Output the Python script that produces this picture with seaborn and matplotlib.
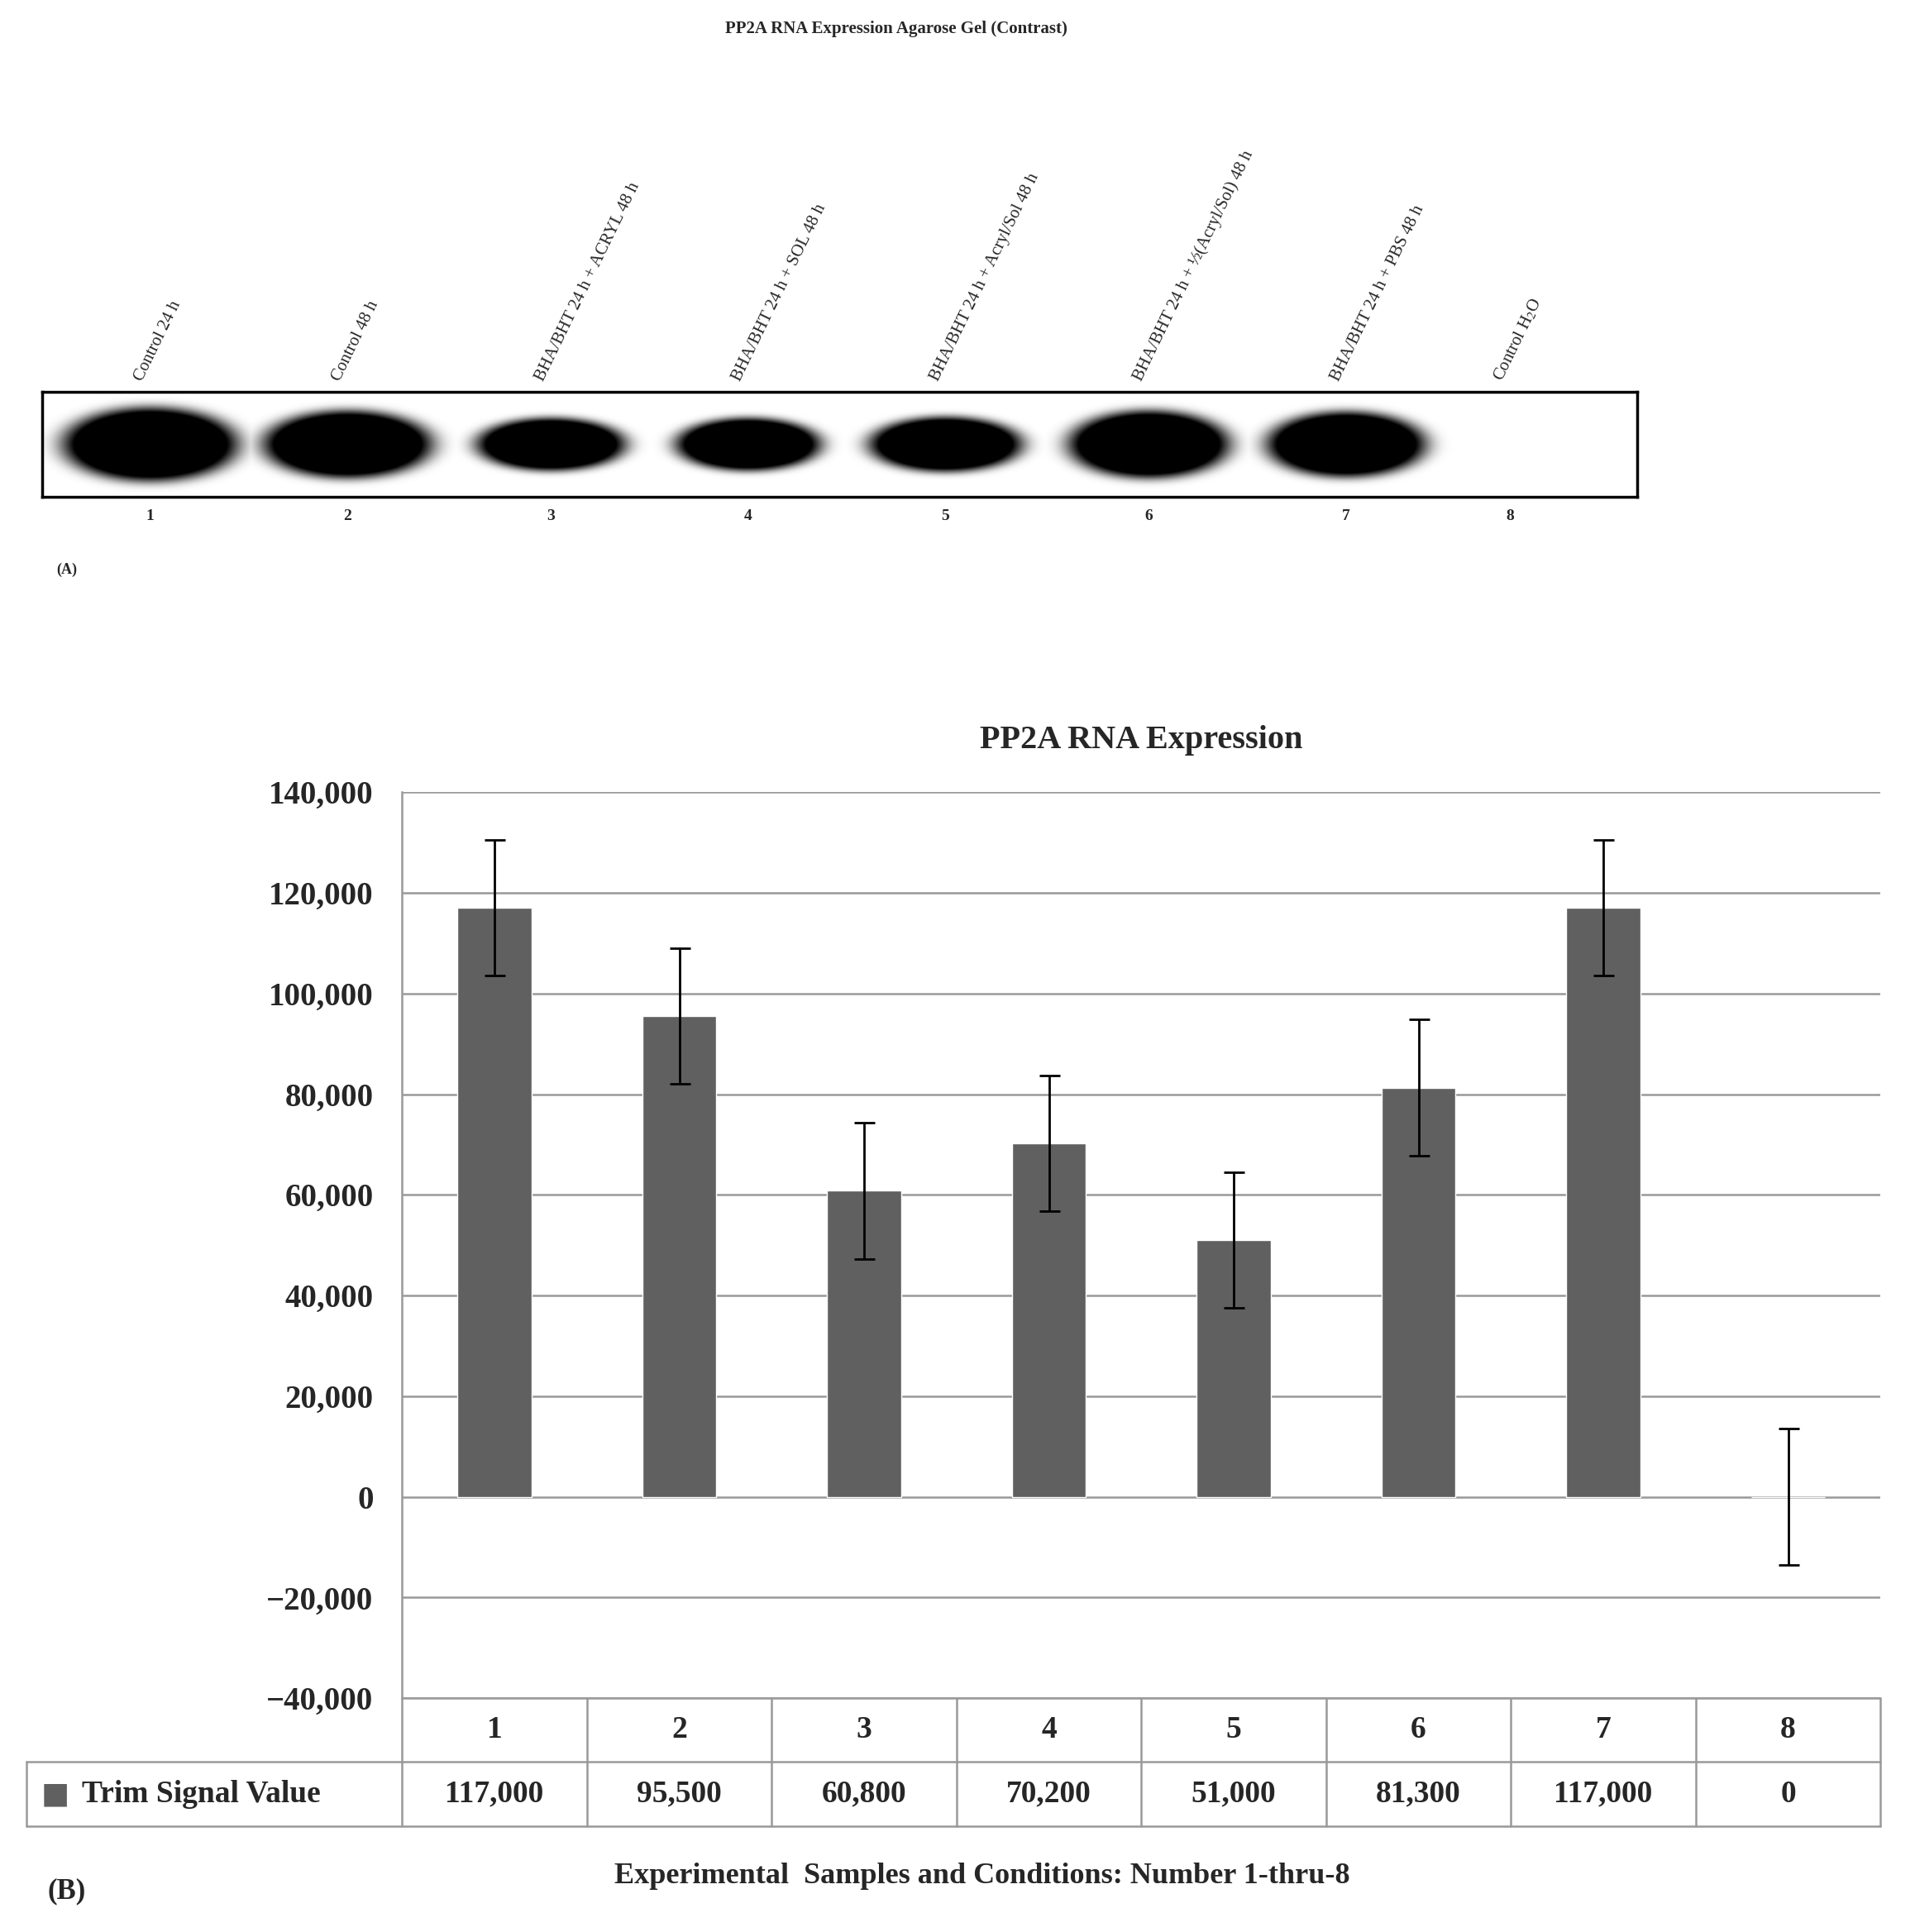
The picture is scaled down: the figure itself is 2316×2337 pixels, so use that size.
import numpy as np
import seaborn as sns
import matplotlib
matplotlib.use("Agg")
import matplotlib.pyplot as plt
import matplotlib.transforms as mtransforms

# Data
lanes = ["1", "2", "3", "4", "5", "6", "7", "8"]
lane_names = ["Control 24 h", "Control 48 h", "BHA/BHT 24 h + ACRYL 48 h",
              "BHA/BHT 24 h + SOL 48 h", "BHA/BHT 24 h + Acryl/Sol 48 h",
              "BHA/BHT 24 h + ½(Acryl/Sol) 48 h", "BHA/BHT 24 h + PBS 48 h",
              "Control H$_2$O"]
signal = [117000, 95500, 60800, 70200, 51000, 81300, 117000, 0]
errors = [13500, 13500, 13500, 13500, 13500, 13500, 13500, 13500]
value_labels = ["117,000", "95,500", "60,800", "70,200", "51,000", "81,300", "117,000", "0"]

# Gel band appearance (width / height in lane units)
lane_pos = [0.54, 1.53, 2.55, 3.54, 4.53, 5.55, 6.54, 7.36]
band_w = [0.87, 0.84, 0.74, 0.72, 0.76, 0.80, 0.79, 0.0]
band_h = [0.70, 0.64, 0.50, 0.50, 0.52, 0.64, 0.62, 0.0]

sns.set_style("white")
plt.rcParams["font.family"] = ["Liberation Serif", "DejaVu Serif"]
plt.rcParams["mathtext.fontset"] = "stix"

fig = plt.figure(figsize=(23.16, 23.37), dpi=100)

# ---------- (A) gel ----------
gel = fig.add_axes([0.022, 0.743, 0.833, 0.054])
xs = np.linspace(0, 8, 1200)
ys = np.linspace(0, 1, 150)
X, Y = np.meshgrid(xs, ys)
img = np.zeros_like(X)
for p, w, h in zip(lane_pos, band_w, band_h):
    if w == 0:
        continue
    r = ((X - p) / (w / 2)) ** 2 + ((Y - 0.5) / (h / 2)) ** 2
    img = np.maximum(img, np.exp(-r ** 3) * 1.6)
img = np.clip(img, 0, 1)
gel.imshow(img, cmap="gray_r", extent=[0, 8, 0, 1], aspect="auto", vmin=0, vmax=1,
           interpolation="bilinear")
gel.set_xlim(0, 8)
gel.set_ylim(0, 1)
gel.set_xticks([])
gel.set_yticks([])
for s in gel.spines.values():
    s.set_linewidth(2.5)
    s.set_color("black")
for p, lab, name in zip(lane_pos, lanes, lane_names):
    gel.text(p, -0.12, lab, ha="center", va="top", fontsize=14, fontweight="bold")
    gel.text(p - 0.02, 1.08, name, ha="left", va="bottom", rotation=64,
             rotation_mode="anchor", fontsize=15)
fig.text(0.468, 0.985, "PP2A RNA Expression Agarose Gel (Contrast)", ha="center",
         va="center", fontsize=15, fontweight="bold")
fig.text(0.035, 0.705, "(A)", ha="center", va="center", fontsize=13, fontweight="bold")

# ---------- (B) bar chart ----------
ax = fig.add_axes([0.210, 0.121, 0.772, 0.469])
x = np.arange(len(lanes))
sns.barplot(x=x, y=signal, color="#606060", width=0.4, saturation=1, ax=ax)
ax.errorbar(x, signal, yerr=errors, fmt="none", ecolor="black", elinewidth=2,
            capsize=9, capthick=2)
ax.set_xlim(-0.5, 7.5)
ax.set_ylim(-40000, 140000)
ax.set_yticks(range(-40000, 140001, 20000))
ax.set_yticklabels([f"{v:,}".replace("-", "\u2212") for v in range(-40000, 140001, 20000)],
                   fontsize=28, fontweight="bold")
ax.yaxis.grid(True, color="#999999", linewidth=1.8)
ax.set_axisbelow(True)
ax.set_xticks([])
ax.set_xlabel("")
for side in ["top", "right", "bottom"]:
    ax.spines[side].set_visible(False)
ax.spines["left"].set_color("#999999")
ax.spines["left"].set_linewidth(1.8)
ax.tick_params(axis="y", length=0, pad=25)
ax.set_title("PP2A RNA Expression", fontsize=29, fontweight="bold", pad=38)

# data table under the axis
tr = mtransforms.blended_transform_factory(ax.transData, ax.transAxes)
row_h = 0.0705
left = -0.5 - 0.254 * 8
lc = dict(color="#999999", linewidth=1.8, transform=tr, clip_on=False)
ax.plot([-0.5, 7.5], [0, 0], **lc)
for yy in [-row_h, -2 * row_h]:
    ax.plot([left, 7.5], [yy, yy], **lc)
ax.plot([left, left], [-row_h, -2 * row_h], **lc)
for xx in np.arange(-0.5, 8.0, 1.0):
    ax.plot([xx, xx], [0, -2 * row_h], **lc)
for i, (lab, val) in enumerate(zip(lanes, value_labels)):
    ax.text(i, -row_h / 2, lab, transform=tr, ha="center", va="center",
            fontsize=27, fontweight="bold")
    ax.text(i, -1.5 * row_h, val, transform=tr, ha="center", va="center",
            fontsize=27, fontweight="bold")
ax.text(left + 0.08, -1.5 * row_h, "\u25A0", color="#606060", transform=tr,
        ha="left", va="center", fontsize=26, family=["DejaVu Sans"])
ax.text(left + 0.3, -1.5 * row_h, "Trim Signal Value", transform=tr, ha="left",
        va="center", fontsize=27, fontweight="bold")

fig.text(0.513, 0.029, "Experimental  Samples and Conditions: Number 1-thru-8",
         ha="center", va="center", fontsize=26, fontweight="bold")
fig.text(0.025, 0.021, "(B)", ha="left", va="center", fontsize=25, fontweight="bold")

fig.savefig("out.png", dpi=100, facecolor="white")
